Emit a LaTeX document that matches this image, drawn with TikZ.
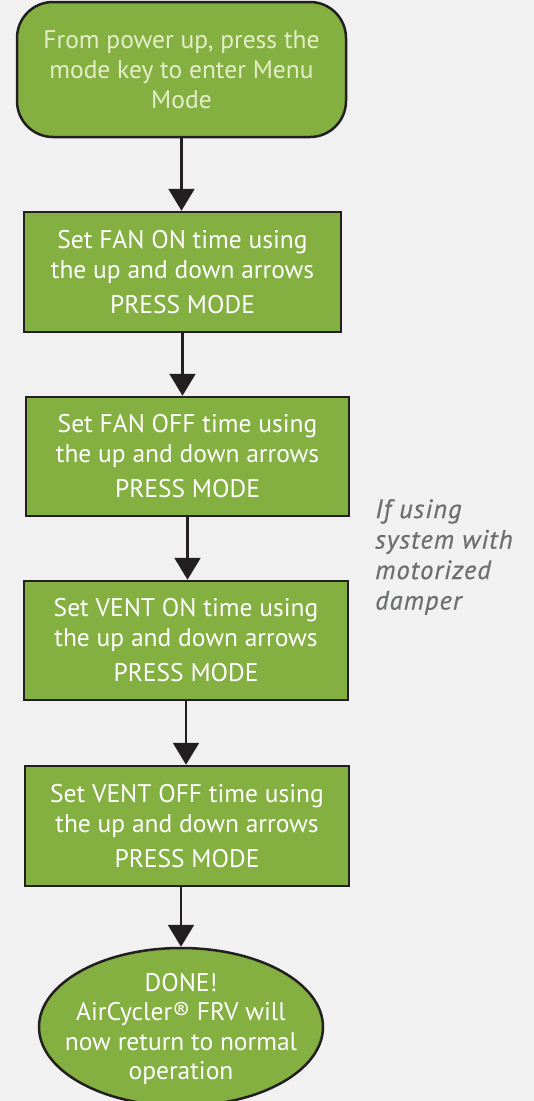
\documentclass[tikz,border=0pt]{standalone}
\usepackage{fontspec}
\setmainfont{PT Sans}
\newfontfamily\notefont[LetterSpace=4,FakeBold=0.6]{PT Sans Italic}
\usetikzlibrary{shapes.geometric,arrows.meta}
\definecolor{bg}{HTML}{F0F1F0}
\definecolor{leaf}{HTML}{84AF41}
\definecolor{ink}{HTML}{231F20}
\definecolor{pale}{HTML}{E4EEC6}
\definecolor{note}{HTML}{6D6E70}
\tikzset{
  stepbox/.style={draw=ink, line width=2.5pt, fill=leaf, text=white, align=center,
    inner sep=0pt, font=\fontsize{25.5}{30}\selectfont},
  startbox/.style={stepbox, rounded corners=36pt, text=pale},
  endoval/.style={draw=ink, line width=2.5pt, fill=leaf, ellipse, inner sep=0pt},
  ovaltext/.style={text=white, align=center, inner sep=0pt, font=\fontsize{25.5}{29.3}\selectfont},
  flow/.style={draw=ink, line width=2.2pt, -{Triangle[width=26pt,length=22pt]}},
}
\begin{document}
\begin{tikzpicture}[x=1pt,y=-1pt]
\fill[bg] (0,0) rectangle (534,1101);
\useasboundingbox (0,0) rectangle (534,1101);
\node[startbox, minimum width=329pt, minimum height=135pt] (b1) at (181.5,69.5)
  {From power up, press the\\mode key to enter Menu\\Mode};
\node[stepbox, minimum width=317pt, minimum height=120pt] (b2) at (182.5,272)
  {Set FAN ON time using\\the up and down arrows\\[5pt]PRESS MODE};
\node[stepbox, minimum width=323pt, minimum height=119pt] (b3) at (187.5,456.5)
  {Set FAN OFF time using\\the up and down arrows\\[5pt]PRESS MODE};
\node[stepbox, minimum width=324pt, minimum height=119pt] (b4) at (186,640.5)
  {Set VENT ON time using\\the up and down arrows\\[5pt]PRESS MODE};
\node[stepbox, minimum width=324pt, minimum height=120pt] (b5) at (187,826)
  {Set VENT OFF time using\\the up and down arrows\\[5pt]PRESS MODE};
\node[endoval, minimum width=284pt, minimum height=158pt] (b6) at (181,1027) {};
\node[ovaltext] (t6) at (181,1029)
  {DONE!\\AirCycler® FRV will\\now return to normal\\operation};
\node[anchor=north west, align=left, text=note, inner sep=0pt,
  font=\notefont\fontsize{26.5}{30.5}\selectfont] (n1) at (375,499)
  {If using\\system with\\motorized\\damper};
\draw[flow] (b1.south) -- (b1.south |- b2.north);
\draw[flow] (b2.south) -- (b2.south |- b3.north);
\draw[flow] (b3.south) -- (b3.south |- b4.north);
\draw[flow] (b4.south) -- (b4.south |- b5.north);
\draw[flow] (b5.south -| b6.north) -- (b6.north);
\end{tikzpicture}
\end{document}
